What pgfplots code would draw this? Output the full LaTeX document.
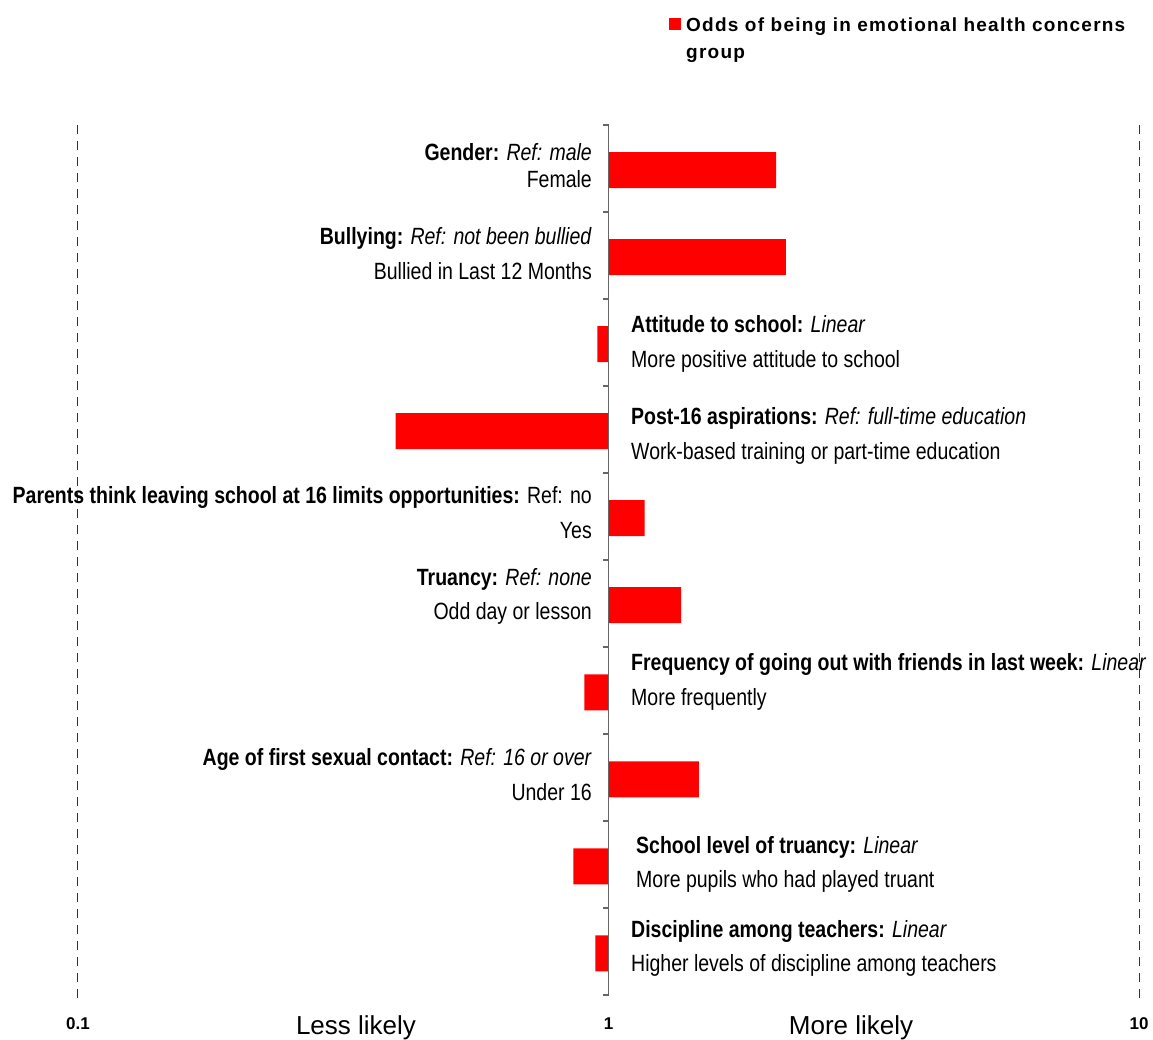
\documentclass[border=0pt]{standalone}
\usepackage{fontspec}
\setmainfont{Liberation Sans}
\newfontfamily\nar{Liberation Sans}[FakeStretch=0.83]
\newfontfamily\legf{Liberation Sans}[LetterSpace=6.5]
\usepackage{pgfplots}
\usepackage{pgfplotstable}
\pgfplotsset{compat=1.18}
\newcommand\lab{\nar\fontsize{23.5}{28}\selectfont}
\newcommand\tl[1]{{\fontsize{17}{20}\selectfont\bfseries #1}}

\pgfplotstableread{
pos odds
0.52 2.07
1.52 2.16
2.52 0.953
3.52 0.397
4.52 1.17
5.52 1.37
6.52 0.901
7.52 1.48
8.52 0.859
9.52 0.945
}\oddstable

\begin{document}
\begin{tikzpicture}[x=1pt,y=1pt]
\useasboundingbox (0,0) rectangle (1153,1039);
\begin{axis}[
  at={(78pt,44pt)}, anchor=south west,
  scale only axis, width=1061pt, height=870pt,
  xmode=log, xmin=0.1, xmax=10, ymin=0, ymax=10, y dir=reverse,
  xbar, bar width=36pt,
  axis line style={draw=none}, major tick length=0pt, minor tick length=0pt,
  xminorticks=false,
  xtick={0.1,1,10}, xticklabels={\tl{0.1},\tl{1},\tl{10}},
  xticklabel style={anchor=center, yshift=-29pt},
  ytick=\empty,
  clip=false,
  legend style={draw=none, fill=none, inner sep=0pt, at={(0.557,1.1322)}, anchor=north west,
    font=\legf\bfseries\fontsize{19}{27}\selectfont, legend cell align=left},
  legend image code/.code={\fill[red] (0pt,-8pt) rectangle (12pt,4pt); \path (15pt,0pt);},
]
\addplot[fill=red, draw=none] table[x=odds, y=pos] {\oddstable};
\addlegendentry{\begin{tabular}[t]{@{}l@{}}Odds of being in emotional health concerns\\group\end{tabular}}
\draw[dash pattern=on 9pt off 7pt, black!80, line width=1pt] (axis cs:0.1,0) -- (axis cs:0.1,10.06);
\draw[dash pattern=on 9pt off 7pt, black!80, line width=1pt] (axis cs:10,0) -- (axis cs:10,10.06);
\draw[black!60, line width=1.5pt] (axis cs:1,0) -- (axis cs:1,10);
\pgfplotsinvokeforeach{0,...,10}{\draw[black!60, line width=1.2pt] (axis cs:1,#1) -- ([xshift=-6pt]axis cs:1,#1);}
\end{axis}
\begin{scope}[every node/.style={inner sep=0pt, font=\lab}]
\node[anchor=base east] at (592,878) {\textbf{Gender:} \textit{Ref: male}};
\node[anchor=base east] at (592,851) {Female};
\node[anchor=base east] at (592,794) {\textbf{Bullying:} \textit{Ref: not been bullied}};
\node[anchor=base east] at (592,759) {Bullied in Last 12 Months};
\node[anchor=base west] at (631,706) {\textbf{Attitude to school:} \textit{Linear}};
\node[anchor=base west] at (631,671) {More positive attitude to school};
\node[anchor=base west] at (631,614) {\textbf{Post-16 aspirations:} \textit{Ref: full-time education}};
\node[anchor=base west] at (631,579) {Work-based training or part-time education};
\node[anchor=base east] at (592,535) {\textbf{Parents think leaving school at 16 limits opportunities:} Ref: no};
\node[anchor=base east] at (592,500) {Yes};
\node[anchor=base east] at (592,453) {\textbf{Truancy:} \textit{Ref: none}};
\node[anchor=base east] at (592,419) {Odd day or lesson};
\node[anchor=base west] at (631,368) {\textbf{Frequency of going out with friends in last week:} \textit{Linear}};
\node[anchor=base west] at (631,333) {More frequently};
\node[anchor=base east] at (592,273) {\textbf{Age of first sexual contact:} \textit{Ref: 16 or over}};
\node[anchor=base east] at (592,239) {Under 16};
\node[anchor=base west] at (636,186) {\textbf{School level of truancy:} \textit{Linear}};
\node[anchor=base west] at (636,152) {More pupils who had played truant};
\node[anchor=base west] at (631,102) {\textbf{Discipline among teachers:} \textit{Linear}};
\node[anchor=base west] at (631,68) {Higher levels of discipline among teachers};
\end{scope}
\node[anchor=base, inner sep=0pt, font=\fontsize{26}{30}\selectfont] at (356,5) {Less likely};
\node[anchor=base, inner sep=0pt, font=\fontsize{26}{30}\selectfont] at (851,5) {More likely};
\end{tikzpicture}
\end{document}
